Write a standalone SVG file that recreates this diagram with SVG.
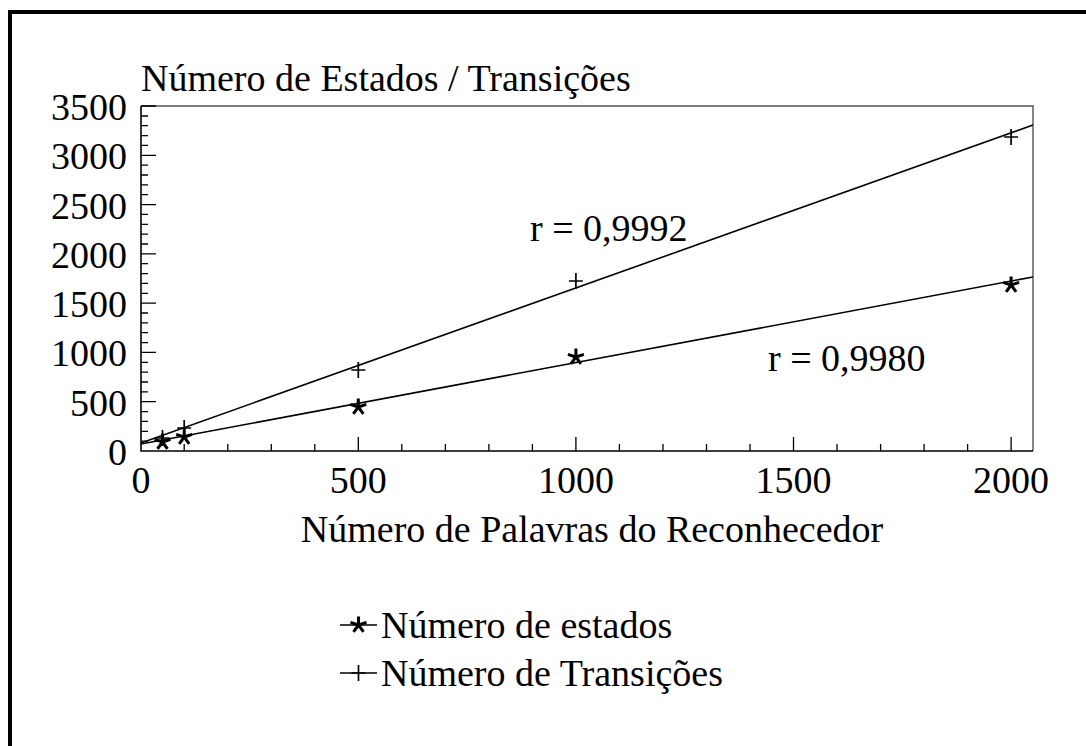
<svg xmlns="http://www.w3.org/2000/svg" width="1086" height="746" viewBox="0 0 1086 746">
<style>
text{font-family:"Liberation Serif","Times New Roman",serif;font-size:38px;fill:#000}
.yl{text-anchor:end}
.xl{text-anchor:middle}
.ax{stroke:#000;stroke-width:1.6;fill:none}
.ax2{stroke:#555;stroke-width:1.4;fill:none}
.tk{stroke:#000;stroke-width:1.3}
.fit{stroke:#000;stroke-width:1.6;fill:none}
.st{stroke:#000;stroke-width:3;stroke-linecap:butt;fill:none}
.pl{stroke:#000;stroke-width:1.7;fill:none}
</style>
<defs>
<g id="star">
<path d="M0,0V-8.5M0,0L8,-2.6M0,0L5,6.9M0,0L-5,6.9M0,0L-8,-2.6" class="st"/>
</g>
<g id="plus">
<path d="M-7,0H7M0,-8V8" class="pl"/>
</g>
</defs>
<rect x="0" y="0" width="1086" height="746" fill="#fff"/>
<rect x="10" y="12" width="1200" height="900" fill="none" stroke="#000" stroke-width="4"/>
<g id="title"><text x="141" y="91">Número de Estados / Transições</text></g>
<g id="axes">
<path class="ax2" d="M141,106H1033V451"/>
<path class="ax" d="M141,106V451H1033"/>
<g class="tk">
<path d="M141,106H156M141,155.3H156M141,204.6H156M141,253.9H156M141,303.1H156M141,352.4H156M141,401.7H156"/>
<path d="M141,116H148M141,125.7H148M141,135.6H148M141,145.4H148M141,165.1H148M141,175H148M141,184.8H148M141,194.7H148M141,214.4H148M141,224.3H148M141,234.1H148M141,244H148M141,263.7H148M141,273.6H148M141,283.4H148M141,293.3H148M141,313H148M141,322.9H148M141,332.7H148M141,342.6H148M141,362.3H148M141,372.1H148M141,382H148M141,391.9H148M141,411.6H148M141,421.4H148M141,431.3H148M141,441.1H148"/>
<path d="M358.3,451V437M575.9,451V437M793.5,451V437M1011.1,451V437"/>
<path d="M184.2,451V444M227.8,451V444M271.3,451V444M314.8,451V444M401.8,451V444M445.4,451V444M488.9,451V444M532.4,451V444M619.4,451V444M663,451V444M706.5,451V444M750,451V444M837,451V444M880.6,451V444M924.1,451V444M967.6,451V444"/>
</g>
</g>
<g id="ylabels">
<text class="yl" x="127" y="120">3500</text>
<text class="yl" x="127" y="169">3000</text>
<text class="yl" x="127" y="219">2500</text>
<text class="yl" x="127" y="268">2000</text>
<text class="yl" x="127" y="317">1500</text>
<text class="yl" x="127" y="366">1000</text>
<text class="yl" x="127" y="416">500</text>
<text class="yl" x="127" y="465">0</text>
</g>
<g id="xlabels">
<text class="xl" x="141" y="493">0</text>
<text class="xl" x="358.3" y="493">500</text>
<text class="xl" x="575.9" y="493">1000</text>
<text class="xl" x="793.5" y="493">1500</text>
<text class="xl" x="1011.1" y="493">2000</text>
</g>
<g id="xtitle"><text class="xl" x="592" y="542">Número de Palavras do Reconhecedor</text></g>
<g id="connectors">
<path class="fit" d="M141,443L1033,125"/>
<path class="fit" d="M141,444L1033,277"/>
</g>
<g id="series-transicoes">
<use href="#plus" x="162.5" y="438"/>
<use href="#plus" x="184.2" y="428"/>
<use href="#plus" x="358.3" y="370"/>
<use href="#plus" x="575.9" y="281"/>
<use href="#plus" x="1011.1" y="137"/>
</g>
<g id="series-estados">
<use href="#star" x="162.5" y="442"/>
<use href="#star" x="184.2" y="437"/>
<use href="#star" x="358.3" y="407"/>
<use href="#star" x="575.9" y="357"/>
<use href="#star" x="1011.1" y="285"/>
</g>
<g id="r1"><text x="530" y="241">r = 0,9992</text></g>
<g id="r2"><text x="768" y="371">r = 0,9980</text></g>
<g id="legend">
<g id="leg-estados">
<path class="fit" d="M340,625H377"/>
<use href="#star" x="358.5" y="625"/>
<text x="381" y="638">Número de estados</text>
</g>
<g id="leg-transicoes">
<path class="fit" d="M340,673H377"/>
<use href="#plus" x="358.5" y="673"/>
<text x="381" y="686">Número de Transições</text>
</g>
</g>
</svg>
